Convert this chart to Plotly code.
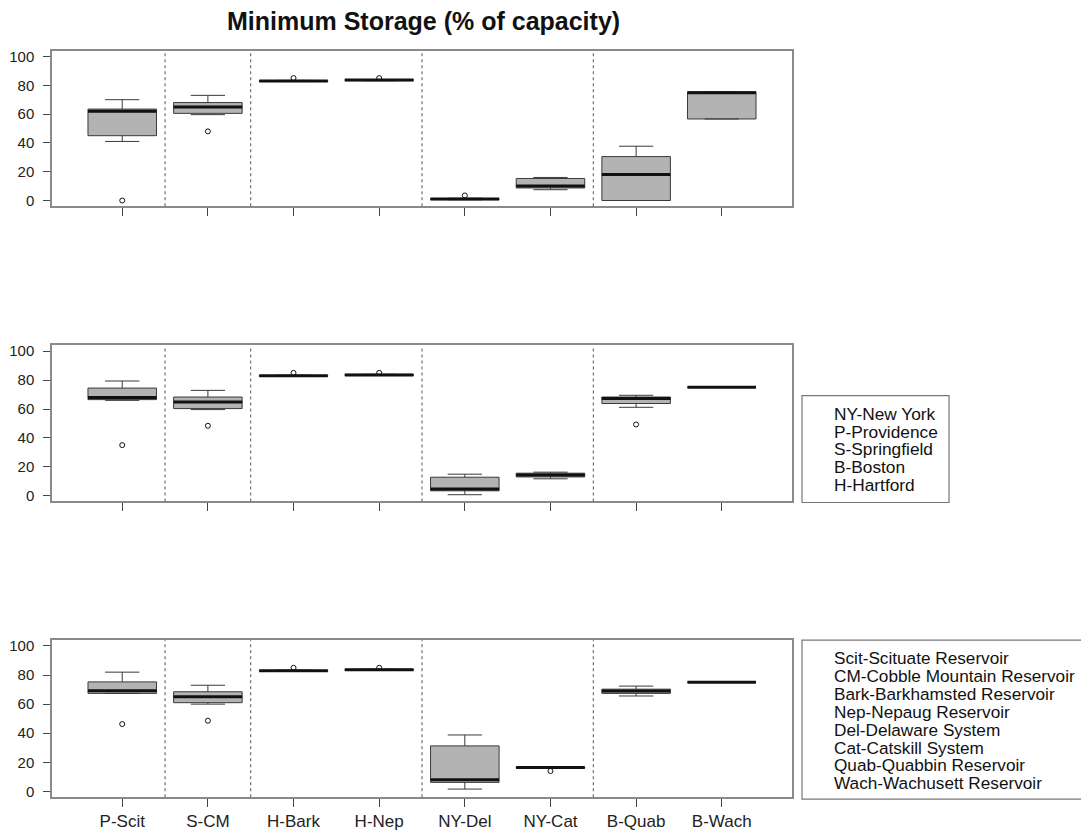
import plotly.graph_objects as go

# ---------------- data ----------------
categories = ["P-Scit", "S-CM", "H-Bark", "H-Nep", "NY-Del", "NY-Cat", "B-Quab", "B-Wach"]

# panel 1 (top)
p1_lower  = [41.0, 59.6, 82.6, 83.2, 0.5, 7.5, 0.0, 56.6]
p1_q1     = [45.0, 60.5, 82.6, 83.2, 0.6, 8.7, 0.0, 56.6]
p1_median = [62.0, 65.0, 83.0, 83.6, 1.0, 10.0, 18.0, 74.8]
p1_q3     = [63.5, 68.0, 83.2, 84.0, 1.4, 15.3, 30.5, 75.5]
p1_upper  = [70.0, 73.0, 83.4, 84.0, 1.6, 16.0, 37.7, 75.5]
p1_out_x  = ["P-Scit", "S-CM", "H-Bark", "H-Nep", "NY-Del"]
p1_out_y  = [0.0, 48.0, 85.0, 85.0, 3.5]

# panel 2 (middle)
p2_lower  = [66.0, 59.6, 82.6, 83.2, 0.7, 11.7, 61.2, 75.0]
p2_q1     = [66.5, 60.3, 82.6, 83.2, 3.4, 13.0, 63.8, 75.0]
p2_median = [67.9, 64.9, 83.0, 83.6, 4.6, 14.4, 67.2, 75.0]
p2_q3     = [74.5, 68.3, 83.2, 84.0, 12.8, 15.6, 68.3, 75.0]
p2_upper  = [79.4, 72.9, 83.4, 84.0, 14.9, 16.3, 69.5, 75.0]
p2_out_x  = ["P-Scit", "S-CM", "H-Bark", "H-Nep", "B-Quab"]
p2_out_y  = [35.0, 48.4, 85.0, 85.0, 49.3]

# panel 3 (bottom)
p3_lower  = [67.4, 60.0, 82.6, 83.2, 1.6, 16.0, 65.6, 75.0]
p3_q1     = [67.4, 61.0, 82.6, 83.2, 6.2, 16.0, 67.4, 75.0]
p3_median = [69.2, 65.0, 83.0, 83.6, 8.0, 16.4, 69.0, 75.0]
p3_q3     = [75.3, 68.5, 83.2, 84.0, 31.3, 16.8, 70.3, 75.0]
p3_upper  = [82.0, 73.0, 83.4, 84.0, 38.8, 17.0, 72.4, 75.0]
p3_out_x  = ["P-Scit", "S-CM", "H-Bark", "H-Nep", "NY-Cat"]
p3_out_y  = [46.3, 48.6, 85.0, 85.0, 14.0]

y_ticks = [0, 20, 40, 60, 80, 100]
title_text = "Minimum Storage (% of capacity)"
city_legend = ["NY-New York", "P-Providence", "S-Springfield", "B-Boston", "H-Hartford"]
reservoir_legend = ["Scit-Scituate Reservoir", "CM-Cobble Mountain Reservoir",
                    "Bark-Barkhamsted Reservoir", "Nep-Nepaug Reservoir",
                    "Del-Delaware System", "Cat-Catskill System",
                    "Quab-Quabbin Reservoir", "Wach-Wachusett Reservoir"]

# ---------------- figure ----------------
W, H = 1081, 834
FONT = "Liberation Sans, Arial, Helvetica, sans-serif"

def px_x(p):
    return p / W

def px_y(p):
    return 1 - p / H

fig = go.Figure()

panels = [
    (p1_lower, p1_q1, p1_median, p1_q3, p1_upper, p1_out_x, p1_out_y),
    (p2_lower, p2_q1, p2_median, p2_q3, p2_upper, p2_out_x, p2_out_y),
    (p3_lower, p3_q1, p3_median, p3_q3, p3_upper, p3_out_x, p3_out_y),
]
# frame pixel positions (top, bottom) for each panel
frames = [(48, 204.5), (344.5, 501.5), (641, 799)]
x_dom = [px_x(52), px_x(792)]

for i, (lo, q1, med, q3, up, ox, oy) in enumerate(panels):
    suffix = "" if i == 0 else str(i + 1)
    xa, ya = "x" + suffix, "y" + suffix
    fig.add_trace(go.Box(
        x=categories, q1=q1, median=med, q3=q3, lowerfence=lo, upperfence=up,
        width=0.8, whiskerwidth=0.5, fillcolor="#b3b3b3",
        line=dict(color="#3a3a3a", width=1), boxpoints=False,
        xaxis=xa, yaxis=ya, hoverinfo="skip",
    ))
    # thick median bars
    fig.add_trace(go.Box(
        x=categories, q1=med, median=med, q3=med, lowerfence=med, upperfence=med,
        width=0.8, whiskerwidth=0, fillcolor="rgba(0,0,0,0)",
        line=dict(color="#111111", width=3), boxpoints=False,
        xaxis=xa, yaxis=ya, hoverinfo="skip",
    ))
    fig.add_trace(go.Scatter(
        x=ox, y=oy, mode="markers",
        marker=dict(symbol="circle-open", size=5, color="#111111", line=dict(width=1)),
        xaxis=xa, yaxis=ya, hoverinfo="skip",
    ))
    top, bot = frames[i]
    common_axis = dict(showline=True, mirror=True, linecolor="#8a8a8a", linewidth=1.5,
                       showgrid=False, zeroline=False, ticks="outside",
                       tickcolor="#444444", tickwidth=1,
                       tickfont=dict(family=FONT, size=15, color="#222222"))
    fig.layout["xaxis" + suffix] = dict(
        common_axis, domain=x_dom, anchor=ya, type="category",
        categoryorder="array", categoryarray=categories,
        range=[-0.82, len(categories) - 1 + 0.82], ticklen=8,
        showticklabels=(i == 2), tickfont=dict(family=FONT, size=17, color="#222222"),
    )
    fig.layout["yaxis" + suffix] = dict(
        common_axis, domain=[px_y(bot), px_y(top)], anchor=xa,
        range=[-4, 104], tickvals=y_ticks, ticklen=7, ticklabelstandoff=6,
    )
    # dashed separators where the city prefix changes
    prefixes = [c.split("-")[0] for c in categories]
    for k in range(1, len(categories)):
        if prefixes[k] != prefixes[k - 1]:
            fig.add_shape(type="line", xref=xa, yref=ya + " domain",
                          x0=k - 0.5, x1=k - 0.5, y0=0, y1=1,
                          line=dict(color="#555555", width=1, dash="3px,3px"))

# title
fig.add_annotation(text="<b>" + title_text + "</b>", xref="paper", yref="paper",
                   x=px_x(423), y=px_y(18), xanchor="center", yanchor="middle",
                   showarrow=False, font=dict(family=FONT, size=25, color="#111111"))

# legend boxes
fig.add_shape(type="rect", xref="paper", yref="paper",
              x0=px_x(802), x1=px_x(949), y0=px_y(502.5), y1=px_y(395),
              line=dict(color="#777777", width=1.2))
fig.add_shape(type="rect", xref="paper", yref="paper",
              x0=px_x(802), x1=px_x(1090), y0=px_y(801), y1=px_y(641),
              line=dict(color="#777777", width=1.2))

for k, t in enumerate(city_legend):
    fig.add_annotation(text=t, xref="paper", yref="paper", xanchor="left", yanchor="middle",
                       x=px_x(833), y=px_y(413.3 + 17.9 * k), showarrow=False, borderpad=0,
                       font=dict(family=FONT, size=17.3, color="#111111"))
for k, t in enumerate(reservoir_legend):
    fig.add_annotation(text=t, xref="paper", yref="paper", xanchor="left", yanchor="middle",
                       x=px_x(833), y=px_y(659.3 + 17.96 * k), showarrow=False, borderpad=0,
                       font=dict(family=FONT, size=17.2, color="#111111"))

fig.update_layout(
    width=W, height=H, margin=dict(l=0, r=0, t=0, b=0),
    paper_bgcolor="white", plot_bgcolor="white",
    showlegend=False, boxmode="overlay",
)

fig.write_html("out.html", config={"displayModeBar": False},
               post_script="document.body.style.margin='0';")
